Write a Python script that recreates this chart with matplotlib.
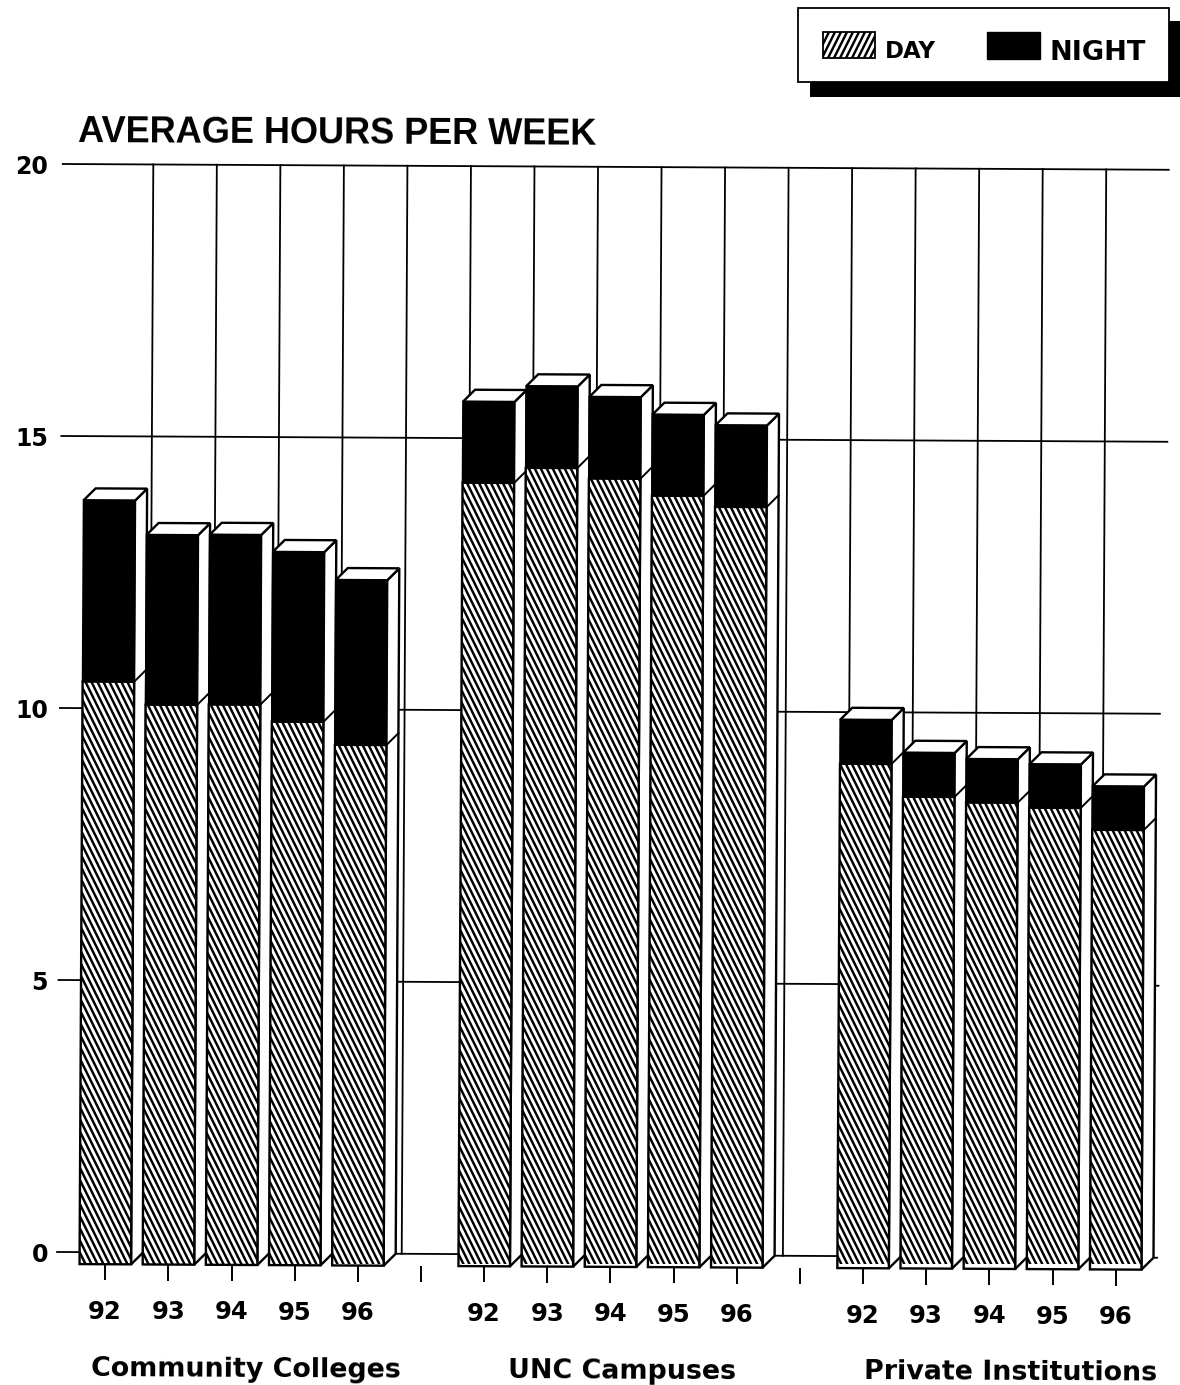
import numpy as np
import matplotlib
matplotlib.use('Agg')
import matplotlib.pyplot as plt
from matplotlib.collections import LineCollection
from matplotlib.patches import Polygon, Rectangle
from matplotlib.transforms import Affine2D

# data
groups = ['Community Colleges', 'UNC Campuses', 'Private Institutions']
years = ['92', '93', '94', '95', '96']
day = [[10.71, 10.29, 10.30, 9.99, 9.57],
       [14.40, 14.68, 14.49, 14.18, 13.98],
       [9.27, 8.67, 8.57, 8.48, 8.08]]
night = [[3.33, 3.12, 3.12, 3.12, 3.03],
         [1.49, 1.50, 1.50, 1.49, 1.50],
         [0.81, 0.81, 0.80, 0.80, 0.80]]
y_ticks = [0, 5, 10, 15, 20]

W, H = 1180, 1385
# picture was scanned a little crooked
TILT = -0.3
BLACK = '#000000'
SANS = 'DejaVu Sans'

fig = plt.figure(figsize=(W / 100, H / 100), dpi=100, facecolor='white')

# axes box in pixels of the picture
left, right, top, base = 62, 1168, 164, 1264
ax = fig.add_axes([left / W, 1 - base / H, (right - left) / W, (base - top) / H])
px_x = 63.15   # pixels per bar slot
px_y = 54.4    # pixels per hour
depth_x = 12 / px_x
depth_y = 12 / px_y
bar_w = 51.5 / px_x
xlim = ((left - 105.3) / px_x, (right - 105.3) / px_x)
ylim = (-depth_y, (base - top) / px_y - depth_y)

rot = Affine2D().rotate_deg_around(left, H - base, TILT)
tr = ax.transData + rot


def stripes(a, trans, clip, x0, x1, y0, y1, ux, uy):
    # diagonal hatch, steeper than the builtin one
    height = abs(y1 - y0) * uy
    run = height / 2
    segs = []
    for c in np.arange(-run, (x1 - x0) * ux + 6, 6):
        segs.append([(x0 + c / ux, y1), (x0 + (c + run) / ux, y0)])
    lc = LineCollection(segs, colors=BLACK, linewidths=1.75, transform=trans, zorder=clip.get_zorder())
    lc.set_capstyle('butt')
    a.add_collection(lc, autolim=False)
    # path + transform, a plain Rectangle clip would only give its bounding box
    lc.set_clip_path(clip.get_path(), clip.get_transform())


# grid behind the bars
for v in y_ticks:
    end = 1163 if v >= 15 else 1157
    ax.plot([(57 - 105.3) / px_x, (end - 105.3) / px_x], [v, v], color=BLACK, lw=1.3, transform=tr,
            clip_on=False, zorder=1)
for i in range(16):
    # the back wall runs a touch wider than the bars in the scan
    gx = i + 0.5 + depth_x + 0.024 + (i - 7.5) * 0.006
    ax.plot([gx, gx], [0, 20], color=BLACK, lw=1.3, transform=tr, clip_on=False, zorder=1)

# bars, one slot left empty between the groups
for g in range(3):
    for k in range(5):
        x = g * 6 + k
        d = day[g][k]
        total = d + night[g][k]
        xl = x - bar_w / 2
        xr = x + bar_w / 2
        z = 3 + x * 0.01
        side = Polygon([(xr, -depth_y), (xr + depth_x, 0), (xr + depth_x, total), (xr, total - depth_y)],
                       facecolor='white', edgecolor=BLACK, lw=1.7, transform=tr, clip_on=False, zorder=z)
        topf = Polygon([(xl, total - depth_y), (xl + depth_x, total), (xr + depth_x, total), (xr, total - depth_y)],
                       facecolor='white', edgecolor=BLACK, lw=1.7, transform=tr, clip_on=False, zorder=z)
        ax.add_patch(side)
        ax.add_patch(topf)
        ax.plot([xr, xr + depth_x], [d - depth_y, d], color=BLACK, lw=1.4, transform=tr, clip_on=False, zorder=z)
        b1 = ax.bar(x, d, bar_w, bottom=-depth_y, facecolor='white', edgecolor='none',
                    transform=tr, clip_on=False, zorder=z)[0]
        stripes(ax, tr, b1, xl, xr, -depth_y, d - depth_y, px_x, px_y)
        ax.bar(x, d, bar_w, bottom=-depth_y, facecolor='none', edgecolor=BLACK, lw=1.7,
               transform=tr, clip_on=False, zorder=z + 0.001)
        ax.bar(x, night[g][k], bar_w, bottom=d - depth_y, facecolor=BLACK, edgecolor=BLACK, lw=1.2,
               transform=tr, clip_on=False, zorder=z + 0.002)

ax.set_xlim(xlim)
ax.set_ylim(ylim)

for s in ax.spines.values():
    s.set_visible(False)
ax.patch.set_visible(False)
ax.set_yticks(y_ticks)
ax.set_yticklabels([str(v) for v in y_ticks], fontfamily=SANS, fontweight='bold', fontsize=17)
ax.tick_params(axis='y', length=0, pad=10)
tick_pos = list(range(17))
tick_lab = [years[p % 6] if p % 6 < 5 else '' for p in tick_pos]
ax.set_xticks(tick_pos)
ax.set_xticklabels(tick_lab, fontfamily=SANS, fontweight='bold', fontsize=17.5)
ax.tick_params(axis='x', length=11.5, width=1.4, pad=14)
for t in ax.xaxis.get_major_ticks():
    t.tick1line.set_transform(t.tick1line.get_transform() + rot)
    t.label1.set_transform(t.label1.get_transform() + rot)

# overlay in picture pixels for title, group names and legend
ov = fig.add_axes([0, 0, 1, 1], facecolor='none')
ov.set_xlim(0, W)
ov.set_ylim(H, 0)
ov.axis('off')

ov.text(78, 133, 'AVERAGE HOURS PER WEEK', family='Liberation Sans', fontweight='bold', fontsize=26,
        ha='left', va='center', rotation=TILT, rotation_mode='anchor')
for name, cx, cy in zip(groups, [246, 622, 1011], [1370, 1372, 1373]):
    ov.text(cx, cy, name, family=SANS, fontweight='bold', fontsize=19.4, ha='center', va='center',
            rotation=TILT, rotation_mode='anchor')

# legend with drop shadow
ov.add_patch(Rectangle((810, 21), 370, 76, facecolor=BLACK, edgecolor='none', zorder=5))
ov.add_patch(Rectangle((798, 8), 371, 74, facecolor='white', edgecolor=BLACK, lw=1.3, zorder=6))
key = Rectangle((823, 32), 52, 26, facecolor='white', edgecolor='none', zorder=7)
ov.add_patch(key)
stripes(ov, ov.transData, key, 823, 875, 32, 58, 1, 1)
ov.add_patch(Rectangle((823, 32), 52, 26, facecolor='none', edgecolor=BLACK, lw=1.3, zorder=8))
ov.add_patch(Rectangle((987, 32), 53, 27, facecolor=BLACK, edgecolor=BLACK, lw=1, zorder=7))
ov.text(885, 51, 'DAY', family=SANS, fontweight='bold', fontsize=16.5, ha='left', va='center', zorder=8)
ov.text(1049, 53, 'NIGHT', family=SANS, fontweight='bold', fontsize=19.5, ha='left', va='center', zorder=8)

fig.savefig('out.png', dpi=100, facecolor='white')
